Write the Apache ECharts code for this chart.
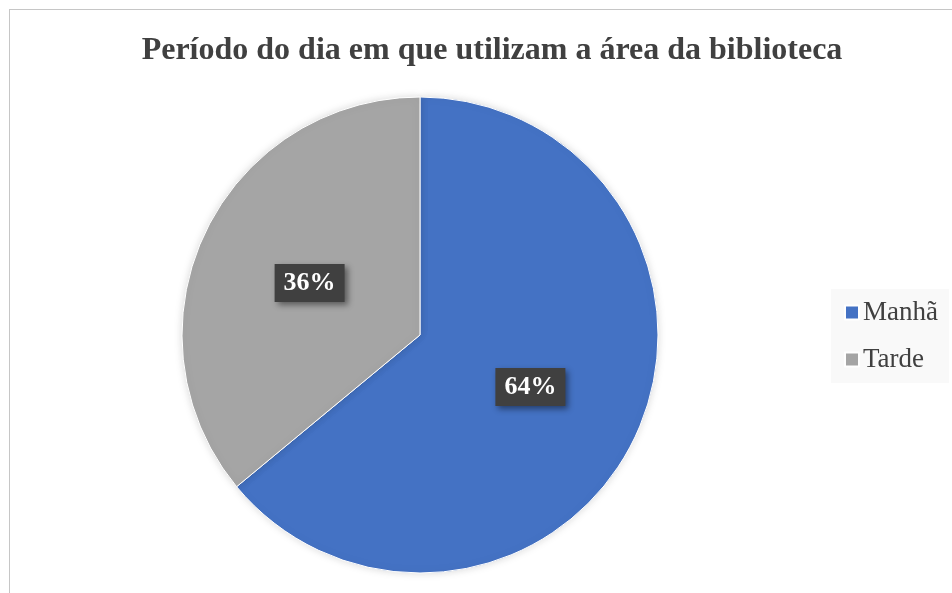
<!DOCTYPE html>
<html>
<head>
<meta charset="utf-8">
<script src="https://cdn.jsdelivr.net/npm/echarts@6/dist/echarts.min.js"></script>
<style>
  html, body { margin: 0; padding: 0; background: #fff; }
  #main { width: 952px; height: 593px; }
  .frame {
    position: absolute; left: 9px; top: 9px; width: 960px; height: 600px;
    border-left: 1.5px solid #c6c6c6; border-top: 1.5px solid #c6c6c6;
    pointer-events: none;
  }
</style>
</head>
<body>
<div id="main"></div>
<div class="frame"></div>
<script>
  // dados do gráfico
  const categorias = ['Manhã', 'Tarde']
  const valores = [64, 36]
  const cores = ['#4472c4', '#a5a5a5']

  const chart = echarts.init(document.getElementById('main'))

  const option = {
    animation: false,
    title: {
      text: 'Período do dia em que utilizam a área da biblioteca',
      left: 487,
      textAlign: 'center',
      top: 30,
      textStyle: {
        fontFamily: 'Liberation Serif',
        fontWeight: 'bold',
        fontSize: 32,
        color: '#404040'
      }
    },
    legend: {
      orient: 'vertical',
      left: 831,
      top: 289,
      padding: [10, 11, 10, 13],
      itemGap: 20,
      itemWidth: 14,
      itemHeight: 14,
      icon: 'rect',
      backgroundColor: '#f9f9f9',
      data: categorias,
      textStyle: {
        fontFamily: 'Liberation Serif',
        fontSize: 27,
        color: '#404040',
        padding: [0, 0, 0, -1]
      }
    },
    series: [{
      type: 'pie',
      center: [420, 335],
      radius: 238,
      startAngle: 90,
      clockwise: true,
      data: categorias.map((nome, i) => ({
        name: nome,
        value: valores[i],
        itemStyle: { color: cores[i] }
      })),
      itemStyle: {
        borderColor: '#fff',
        borderWidth: 1,
        shadowBlur: 8,
        shadowColor: 'rgba(0,0,0,0.15)'
      },
      label: {
        position: 'inside',
        formatter: '{d}%',
        fontFamily: 'Liberation Serif',
        fontWeight: 'bold',
        fontSize: 26,
        color: '#fff',
        backgroundColor: '#404040',
        padding: [7, 9, 5, 9],
        shadowBlur: 6,
        shadowOffsetX: 3,
        shadowOffsetY: 3,
        shadowColor: 'rgba(0,0,0,0.45)'
      },
      labelLine: { show: false },
      emphasis: { disabled: true }
    }]
  }

  chart.setOption(option)
</script>
</body>
</html>
